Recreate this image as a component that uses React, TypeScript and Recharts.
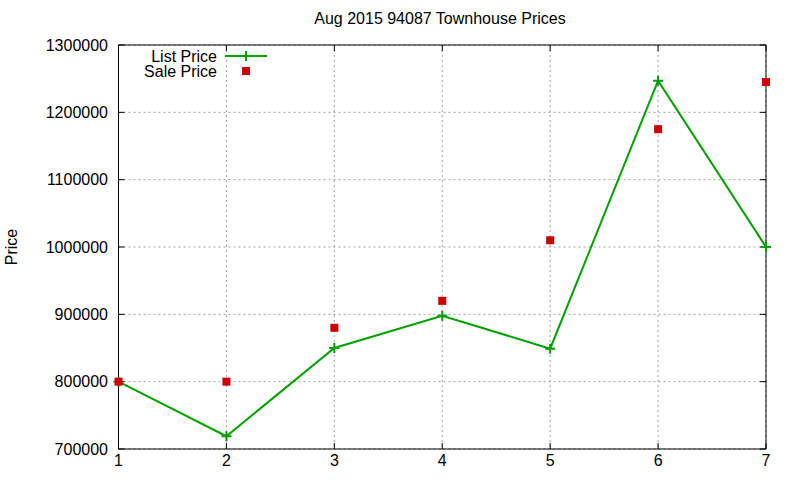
import React from 'react';
import { ComposedChart, Line, XAxis, YAxis, CartesianGrid } from 'recharts';

const xs = [1, 2, 3, 4, 5, 6, 7];
const listPrice = [800000, 719000, 850000, 898000, 849000, 1247000, 1000000];
const salePrice = [800000, 800000, 880000, 920000, 1010000, 1175000, 1245000];
const yTicks = [700000, 800000, 900000, 1000000, 1100000, 1200000, 1300000];
const chartTitle = 'Aug 2015 94087 Townhouse Prices';
const yLabel = 'Price';
const seriesNames = ['List Price', 'Sale Price'];

const GREEN = '#00a000';
const RED = '#cc0000';
const FONT = '"Liberation Sans", Arial, Helvetica, sans-serif';

const data = xs.map((x, i) => ({ x, list: listPrice[i], sale: salePrice[i] }));

const PlusDot = (props: any) => {
  const { cx, cy, index } = props;
  if (cx == null || cy == null) return <g key={`p${index}`} />;
  return (
    <path
      key={`p${index}`}
      d={`M${cx - 5},${cy}H${cx + 5}M${cx},${cy - 5}V${cy + 5}`}
      stroke={GREEN}
      strokeWidth={2}
      fill="none"
    />
  );
};

const SquareDot = (props: any) => {
  const { cx, cy, index } = props;
  if (cx == null || cy == null) return <g key={`s${index}`} />;
  return <rect key={`s${index}`} x={cx - 4} y={cy - 4} width={8} height={8} fill={RED} />;
};

const emptyTick = () => <g />;

export default function App() {
  const tickStyle = { fill: '#000', fontSize: 16, fontFamily: FONT };
  return (
    <div style={{ position: 'absolute', left: 0, top: 0, width: 800, height: 480, background: '#fff', fontFamily: FONT }}>
      <ComposedChart width={800} height={480} data={data} margin={{ top: 0, right: 0, bottom: 0, left: 0 }}>
        <CartesianGrid stroke="#a0a0a0" strokeDasharray="2 3" strokeWidth={1} />
        <XAxis
          dataKey="x"
          type="number"
          domain={[1, 7]}
          ticks={xs}
          height={31}
          axisLine={{ stroke: '#000', strokeWidth: 1 }}
          tickLine={{ stroke: '#000' }}
          tickSize={-6}
          tickMargin={12}
          tick={tickStyle}
          interval={0}
        />
        <XAxis
          xAxisId="top"
          orientation="top"
          type="number"
          domain={[1, 7]}
          ticks={xs}
          allowDataOverflow
          height={45}
          axisLine={{ stroke: '#000', strokeWidth: 1 }}
          tickLine={{ stroke: '#000' }}
          tickSize={-6}
          tick={emptyTick}
          interval={0}
        />
        <YAxis
          type="number"
          domain={[700000, 1300000]}
          ticks={yTicks}
          width={118.5}
          axisLine={{ stroke: '#000', strokeWidth: 1 }}
          tickLine={{ stroke: '#000' }}
          tickSize={-6}
          tickMargin={16.5}
          tick={tickStyle}
          interval={0}
        />
        <YAxis
          yAxisId="right"
          orientation="right"
          type="number"
          domain={[700000, 1300000]}
          ticks={yTicks}
          allowDataOverflow
          width={34}
          axisLine={{ stroke: '#000', strokeWidth: 1 }}
          tickLine={{ stroke: '#000' }}
          tickSize={-6}
          tick={emptyTick}
          interval={0}
        />
        <Line
          dataKey="list"
          name={seriesNames[0]}
          stroke={GREEN}
          strokeWidth={2}
          dot={PlusDot}
          activeDot={false}
          isAnimationActive={false}
        />
        <Line
          dataKey="sale"
          name={seriesNames[1]}
          stroke="none"
          dot={SquareDot}
          activeDot={false}
          isAnimationActive={false}
        />
      </ComposedChart>
      <div
        style={{
          position: 'absolute',
          left: 0,
          width: 880,
          top: 10,
          textAlign: 'center',
          fontSize: 16,
          color: '#000',
          whiteSpace: 'nowrap',
        }}
      >
        {chartTitle}
      </div>
      <div
        style={{
          position: 'absolute',
          left: 12,
          top: 247,
          fontSize: 16,
          color: '#000',
          transform: 'translate(-50%, -50%) rotate(-90deg)',
          whiteSpace: 'nowrap',
        }}
      >
        {yLabel}
      </div>
      <svg width={800} height={480} style={{ position: 'absolute', left: 0, top: 0, pointerEvents: 'none' }}>
        <text x={217} y={56} textAnchor="end" dominantBaseline="central" fontSize={16} fontFamily={FONT} fill="#000">
          {seriesNames[0]}
        </text>
        <line x1={225} y1={56} x2={267} y2={56} stroke={GREEN} strokeWidth={2} />
        <path d="M241,56H251M246,51V61" stroke={GREEN} strokeWidth={2} />
        <text x={217} y={71} textAnchor="end" dominantBaseline="central" fontSize={16} fontFamily={FONT} fill="#000">
          {seriesNames[1]}
        </text>
        <rect x={242} y={67} width={8} height={8} fill={RED} />
      </svg>
    </div>
  );
}
